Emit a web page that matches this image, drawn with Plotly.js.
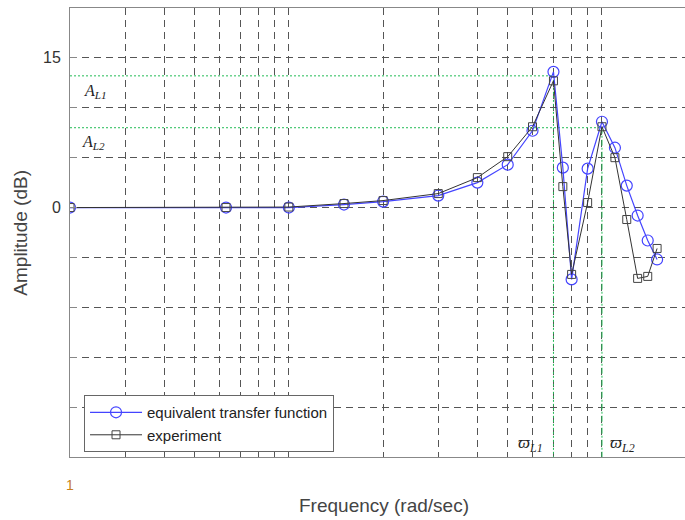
<!DOCTYPE html>
<html>
<head>
<meta charset="utf-8">
<script src="https://cdn.plot.ly/plotly-3.0.1.min.js"></script>
<style>html,body{margin:0;padding:0;background:#fff;}#chart{width:685px;height:520px;}</style>
</head>
<body>
<div id="chart"></div>
<script>
// Frequencies (rad/sec)
var freq = [2, 6.3, 10, 15, 20, 30, 40, 50, 60, 70, 75, 80, 90, 100, 110, 120, 130, 140, 150];
// Amplitude (dB)
var equivalentTF = [0, 0, 0, 0.3, 0.6, 1.2, 2.5, 4.3, 7.7, 13.6, 4.0, -7.2, 3.9, 8.6, 6.0, 2.2, -0.8, -3.3, -5.2];
var experiment   = [0, 0, 0.05, 0.4, 0.7, 1.4, 3.0, 5.1, 8.1, 12.7, 2.1, -6.7, 0.5, 8.1, 5.0, -1.2, -7.1, -6.9, -4.1];

// Reference levels
var AL1 = 13.2, AL2 = 8.0;
var wL1 = 70, wL2 = 100;
var xStart = 2, yBottom = -25;

var yTickVals = [-25, -20, -15, -10, -5, 0, 5, 10, 15, 20];
var yLabelVals = [15, 0];
var yLabelText = ['15', '0'];
var xTickVals = [3, 4, 5, 6, 7, 8, 9, 10, 20, 30, 40, 50, 60, 70, 80, 90, 100];

var green = '#22bb55';

var traces = [
  {x: [xStart, wL1], y: [AL1, AL1], mode: 'lines', line: {color: green, width: 1, dash: '2px,2px'}, showlegend: false, hoverinfo: 'skip'},
  {x: [wL1, wL1], y: [AL1, yBottom], mode: 'lines', line: {color: green, width: 1, dash: '2px,2px'}, showlegend: false, hoverinfo: 'skip'},
  {x: [xStart, wL2], y: [AL2, AL2], mode: 'lines', line: {color: green, width: 1, dash: '2px,2px'}, showlegend: false, hoverinfo: 'skip'},
  {x: [wL2, wL2], y: [AL2, yBottom], mode: 'lines', line: {color: green, width: 1, dash: '6px,2px,2px,2px'}, showlegend: false, hoverinfo: 'skip'},
  {x: freq, y: equivalentTF, name: 'equivalent transfer function', mode: 'lines+markers',
   line: {color: '#4444ff', width: 1.2},
   marker: {symbol: 'circle-open', size: 11, color: '#4444ff', line: {width: 1.2}}},
  {x: freq, y: experiment, name: 'experiment', mode: 'lines+markers',
   line: {color: '#333333', width: 1},
   marker: {symbol: 'square-open', size: 8, color: '#444444', line: {width: 1}}}
];

var annotations = [
  {text: 'Frequency (rad/sec)', xref: 'paper', yref: 'paper', x: 0.51, y: -0.107, xanchor: 'center', yanchor: 'middle', showarrow: false, font: {size: 19, color: '#444'}},
  {text: 'Amplitude (dB)', xref: 'paper', yref: 'paper', x: -0.081, y: 0.5, xanchor: 'center', yanchor: 'middle', textangle: -90, showarrow: false, font: {size: 19, color: '#444'}},
  {text: '1', xref: 'paper', yref: 'paper', x: 0, y: -0.062, xanchor: 'center', yanchor: 'middle', showarrow: false, font: {size: 14, color: '#c8801a'}},
  {text: '<i>A</i><sub><i>L1</i></sub>', xref: 'paper', yref: 'paper', x: 0.019, y: 0.813, xanchor: 'left', yanchor: 'middle', showarrow: false, font: {family: 'Liberation Serif, Times New Roman, serif', size: 16, color: '#222'}},
  {text: '<i>A</i><sub><i>L2</i></sub>', xref: 'paper', yref: 'paper', x: 0.016, y: 0.701, xanchor: 'left', yanchor: 'middle', showarrow: false, font: {family: 'Liberation Serif, Times New Roman, serif', size: 16, color: '#222'}},
  {text: '<i>ϖ</i><sub><i>L1</i></sub>', xref: 'paper', yref: 'paper', x: 0.726, y: 0.03, xanchor: 'left', yanchor: 'middle', showarrow: false, font: {family: 'Liberation Serif, Times New Roman, serif', size: 17, color: '#222'}},
  {text: '<i>ϖ</i><sub><i>L2</i></sub>', xref: 'paper', yref: 'paper', x: 0.875, y: 0.03, xanchor: 'left', yanchor: 'middle', showarrow: false, font: {family: 'Liberation Serif, Times New Roman, serif', size: 17, color: '#222'}}
];
yLabelVals.forEach(function (v, i) {
  annotations.push({text: yLabelText[i], xref: 'paper', yref: 'y', x: -0.011, y: v, xanchor: 'right', yanchor: 'middle', showarrow: false, font: {size: 16, color: '#333'}});
});

var layout = {
  width: 685, height: 520,
  margin: {l: 70, r: 0, t: 8, b: 63},
  paper_bgcolor: '#fff', plot_bgcolor: '#fff',
  font: {family: 'Liberation Sans, Arial, sans-serif', color: '#333'},
  showlegend: true,
  legend: {
    x: 0.0228, y: 0.138, xanchor: 'left', yanchor: 'top',
    bgcolor: '#fff', bordercolor: '#666', borderwidth: 1,
    font: {size: 15, color: '#222'}, itemwidth: 52, tracegroupgap: 0
  },
  xaxis: {
    type: 'log', range: [Math.log10(2), 2.2652],
    tickvals: xTickVals, showticklabels: false,
    showgrid: true, gridcolor: '#555', griddash: '7px,5px', gridwidth: 1,
    showline: true, linecolor: '#888', linewidth: 1, mirror: true,
    ticks: '', zeroline: false
  },
  yaxis: {
    range: [-25, 20], tickvals: yTickVals, showticklabels: false,
    showgrid: true, gridcolor: '#555', griddash: '7px,5px', gridwidth: 1,
    showline: true, linecolor: '#888', linewidth: 1, mirror: false,
    ticks: 'inside', ticklen: 7, tickcolor: '#888', zeroline: false
  },
  annotations: annotations
};

Plotly.newPlot('chart', traces, layout, {displayModeBar: false, staticPlot: true});
</script>
</body>
</html>
